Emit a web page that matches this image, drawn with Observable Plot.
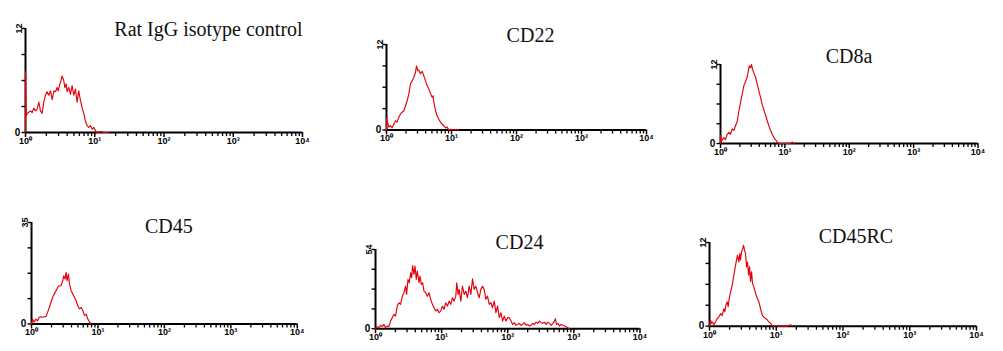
<!DOCTYPE html>
<html><head><meta charset="utf-8">
<script src="https://cdn.jsdelivr.net/npm/d3@7"></script>
<script src="https://cdn.jsdelivr.net/npm/@observablehq/plot@0.6"></script>
<style>
html,body{margin:0;padding:0;background:#fff}
#root{position:relative;width:1003px;height:351px;overflow:hidden;background:#fff}
.panel{position:absolute}
</style></head><body><div id="root"></div>
<script>
// ---- data ----
const panelTitles = ["Rat IgG isotype control","CD22","CD8a","CD45","CD24","CD45RC"];
const yMaxValues = [12, 12, 12, 35, 54, 12];
const yMaxLabels = ["12","12","12","35","54","12"];
const yTickFractions = [0, 0.25, 0.5, 0.75, 1];
const xTickValues = [1, 10, 100, 1000, 10000];
const xTickLabels = ["10\u2070","10\u00b9","10\u00b2","10\u00b3","10\u2074"];
const xMinorMultiples = [2, 3, 4, 5, 6, 7, 8, 9];

// fluorescence intensity (log10 decades) and event counts
const ratIgGLog = [0,0,0.01,0.024,0.072,0.096,0.12,0.144,0.168,0.192,0.216,0.24,0.264,0.288,0.312,0.337,0.361,0.385,0.409,0.433,0.457,0.472,0.49,0.505,0.529,0.553,0.567,0.587,0.601,0.625,0.649,0.673,0.697,0.721,0.745,0.769,0.793,0.817,0.841,0.865,0.889,0.913,0.937,0.962,0.986,1.01,1.034,1.082,1.13,1.2];
const ratIgGCount = [0,7.0,1.9,2.2,2.5,2.3,2.8,2.5,2.7,3.5,2.5,2.2,3.5,4.3,4.7,4.3,4.8,3.8,4.8,4.7,5.2,4.8,5.4,5.8,6.5,6.0,5.2,5.6,4.7,5.2,4.4,5.4,4.3,5.0,3.5,4.8,3.7,2.9,2.2,1.3,0.8,0.6,0.8,0.4,0.6,0.2,0,0.1,0,0];

const cd22Log = [0,0,0.036,0.062,0.087,0.113,0.138,0.164,0.19,0.215,0.241,0.267,0.292,0.318,0.344,0.369,0.395,0.421,0.446,0.462,0.482,0.497,0.523,0.549,0.574,0.6,0.626,0.651,0.677,0.703,0.718,0.728,0.754,0.779,0.805,0.831,0.856,0.882,0.908,0.933,0.959,0.985,1.036,1.087,1.11];
const cd22Count = [0,1.7,0.4,0.6,0.3,0.8,1.3,1.1,1.8,2.25,2.5,2.7,3.4,4.1,5.1,6.5,6.9,7.4,8.1,9.0,8.3,8.4,7.9,8.25,7.6,6.9,6.2,5.8,5.1,4.6,4.8,3.9,2.7,2.0,1.5,1.1,0.8,0.6,0.3,0.4,0,0.1,0,0.1,0];

const cd8aLog = [0,0,0.016,0.031,0.052,0.078,0.104,0.13,0.155,0.181,0.207,0.233,0.259,0.285,0.311,0.337,0.363,0.389,0.415,0.43,0.446,0.466,0.482,0.497,0.518,0.544,0.57,0.596,0.622,0.648,0.674,0.699,0.725,0.751,0.777,0.803,0.829,0.855,0.881,0.907,0.959,1.088,1.114,1.14];
const cd8aCount = [0,1.2,0.4,0.6,0.9,0.6,1.4,1.7,1.4,2.2,2.0,2.7,3.3,4.9,6.2,7.5,8.8,9.4,10.1,10.9,11.8,11.5,12.0,11.3,10.7,10.1,9.1,8.0,7.0,5.9,5.1,4.3,3.5,2.7,2.0,1.4,0.9,0.6,0.2,0,0,0,0.2,0];

const cd45Log = [0,0.015,0.04,0.066,0.091,0.116,0.141,0.167,0.192,0.217,0.242,0.268,0.293,0.318,0.343,0.369,0.394,0.419,0.444,0.47,0.485,0.505,0.52,0.535,0.556,0.571,0.596,0.621,0.646,0.672,0.697,0.722,0.747,0.773,0.798,0.823,0.848,0.874,0.899];
const cd45Count = [0,1.7,0.6,1.7,1.1,2.3,2.5,2.3,2.5,2.5,4.0,5.7,7.5,9.2,10.3,11.5,12.6,13.2,13.2,14.9,16.6,15.5,17.8,14.9,17.2,13.8,11.5,10.3,9.2,8.0,6.3,5.2,5.7,4.6,2.9,3.4,1.7,0.6,0];

const cd24Log = [0,0.025,0.051,0.076,0.101,0.126,0.152,0.177,0.202,0.228,
0.253,0.278,0.303,0.329,0.354,0.379,0.405,0.43,0.455,0.47,
0.491,0.511,0.531,0.546,0.561,0.582,0.597,0.617,0.632,0.658,
0.673,0.693,0.713,0.733,0.759,0.784,0.809,0.835,0.86,0.885,
0.91,0.936,0.961,0.986,1.012,1.037,1.062,1.088,1.113,1.138,
1.163,1.189,1.214,1.229,1.249,1.265,1.29,1.315,1.341,1.366,
1.391,1.416,1.442,1.467,1.492,1.517,1.543,1.568,1.593,1.619,
1.644,1.669,1.694,1.72,1.745,1.77,1.796,1.821,1.846,1.872,
1.897,1.922,1.947,1.973,1.998,2.023,2.049,2.074,2.099,2.124,
2.15,2.175,2.2,2.226,2.251,2.276,2.301,2.327,2.352,2.377,
2.403,2.428,2.453,2.478,2.504,2.529,2.554,2.58,2.605,2.63,
2.656,2.681,2.706,2.721,2.736,2.757,2.782,2.807,2.833,2.858,
2.883,2.908,2.934];
const cd24Count = [0,1.4,0.7,2.3,1.4,2.9,0.7,1.8,1.4,5.2,
7.5,9.8,8.6,15.4,17.7,16.6,22.2,24.5,29.0,23.4,
33.6,31.3,38.1,34.7,43.1,37.0,42.7,33.6,39.3,31.3,
35.9,30.2,31.3,25.6,24.5,22.2,24.5,20.0,16.6,14.3,
12.0,13.2,10.9,12.0,15.4,13.2,17.7,15.4,18.8,16.6,
21.1,18.8,22.2,31.3,23.4,26.8,18.8,29.0,23.4,25.6,
21.1,29.0,23.4,34.0,26.8,29.0,24.5,21.1,26.8,29.0,
26.8,20.0,22.2,16.6,17.7,14.3,18.8,10.9,15.4,7.5,
10.9,5.2,8.6,5.2,7.5,7.5,5.2,2.9,4.1,2.3,
2.9,3.6,2.3,2.9,4.1,2.3,2.9,1.8,2.3,3.6,
2.9,4.5,3.6,5.2,4.1,3.6,4.5,2.9,4.5,3.6,
2.3,3.6,5.2,6.8,2.9,3.6,1.8,2.9,2.3,1.8,
1.4,0.7,0];

const cd45rcLog = [0,0.015,0.03,0.045,0.065,0.09,0.115,0.14,0.165,0.19,0.215,0.23,0.245,0.265,0.28,0.295,0.315,0.34,0.365,0.39,0.405,0.42,0.44,0.455,0.465,0.48,0.495,0.51,0.525,0.54,0.555,0.57,0.585,0.6,0.615,0.63,0.645,0.665,0.69,0.715,0.74,0.765,0.79,0.815,0.84,0.865,0.89,0.915,0.94,0.965,1.015,1.04,1.165,1.215,1.24];
const cd45rcCount = [0,0.9,0.4,0.6,0.2,0.6,1.1,1.3,1.8,1.5,2.5,2.1,3.0,3.5,2.8,4.0,4.9,5.9,7.3,8.7,9.5,10.2,9.2,10.4,9.5,10.7,11.0,11.6,10.9,10.4,8.5,9.2,7.3,8.5,6.4,7.8,6.1,5.6,4.7,4.0,3.5,2.5,1.6,1.3,1.1,0.9,0.6,0.4,0.1,0,0.1,0,0,0.2,0];

const seriesLog = [ratIgGLog, cd22Log, cd8aLog, cd45Log, cd24Log, cd45rcLog];
const seriesCount = [ratIgGCount, cd22Count, cd8aCount, cd45Count, cd24Count, cd45rcCount];

// ---- layout (pixel geometry of each panel) ----
const layout = [
  {x0: 25,    xe: 302, yt: 28,  yb: 132,   tx: 208,   ty: 35},
  {x0: 386,   xe: 646, yt: 44,  yb: 129.5, tx: 530,   ty: 41.5},
  {x0: 719.5, xe: 977, yt: 64,  yb: 143,   tx: 848,   ty: 62.5},
  {x0: 30.7,  xe: 296.5, yt: 222, yb: 323.5, tx: 168, ty: 232.5},
  {x0: 375,   xe: 639.5, yt: 248.5, yb: 327.7, tx: 519, ty: 248},
  {x0: 709,   xe: 976, yt: 242, yb: 325.7, tx: 855.5, ty: 242.5}
];

const minorTicks = xTickValues.slice(0, -1).flatMap(p => xMinorMultiples.map(m => m * p));

const root = document.getElementById("root");
const ML = 30, MR = 16, MT = 32, MB = 16;
const tickFont = {fontFamily: "Liberation Sans, Arial, sans-serif", fontSize: 9, fontWeight: "bold"};

panelTitles.forEach((title, k) => {
  const g = layout[k];
  const yMax = yMaxValues[k];
  const data = seriesLog[k].map((l, i) => ({x: 10 ** l, y: seriesCount[k][i]}));
  const chart = Plot.plot({
    width: ML + (g.xe - g.x0) + MR,
    height: MT + (g.yb - g.yt) + MB,
    marginLeft: ML, marginRight: MR, marginTop: MT, marginBottom: MB,
    x: {type: "log", domain: [1, 10000]},
    y: {domain: [0, yMax]},
    style: {background: "transparent", overflow: "visible", color: "#000"},
    marks: [
      Plot.axisX(minorTicks, {tickSize: 4, tickFormat: () => "", label: null, strokeWidth: 1.3, stroke: "#000"}),
      Plot.axisX(xTickValues, {tickSize: 5, tickPadding: 0, label: null, strokeWidth: 1.5, stroke: "#000",
        tickFormat: d => xTickLabels[xTickValues.indexOf(d)], ...tickFont}),
      Plot.axisY(yTickFractions.map(f => f * yMax), {tickSize: 3.5, tickFormat: () => "", label: null, strokeWidth: 1.4, stroke: "#000"}),
      Plot.ruleY([0], {stroke: "#000", strokeWidth: 2}),
      Plot.ruleX([1], {stroke: "#000", strokeWidth: 2}),
      Plot.text([0], {x: () => 1, y: d => d, text: () => "0", dx: -8, textAnchor: "middle", ...tickFont, fontSize: 10}),
      Plot.text([yMax], {x: () => 1, y: d => d, text: () => yMaxLabels[k], rotate: -90, dx: -6, textAnchor: "middle", ...tickFont}),
      Plot.line(data, {x: "x", y: "y", stroke: "#e3000b", strokeWidth: 1.15}),
      Plot.text([title], {frameAnchor: "top-left", text: d => d, dx: g.tx - g.x0, dy: g.ty - g.yt - 6.4,
        textAnchor: "middle", lineAnchor: "middle", fontFamily: "Liberation Serif, Times New Roman, serif", fontSize: 20, fill: "#111"})
    ]
  });
  const div = document.createElement("div");
  div.className = "panel";
  div.style.left = (g.x0 - ML) + "px";
  div.style.top = (g.yt - MT) + "px";
  div.appendChild(chart);
  root.appendChild(div);
});
</script>
</body></html>
